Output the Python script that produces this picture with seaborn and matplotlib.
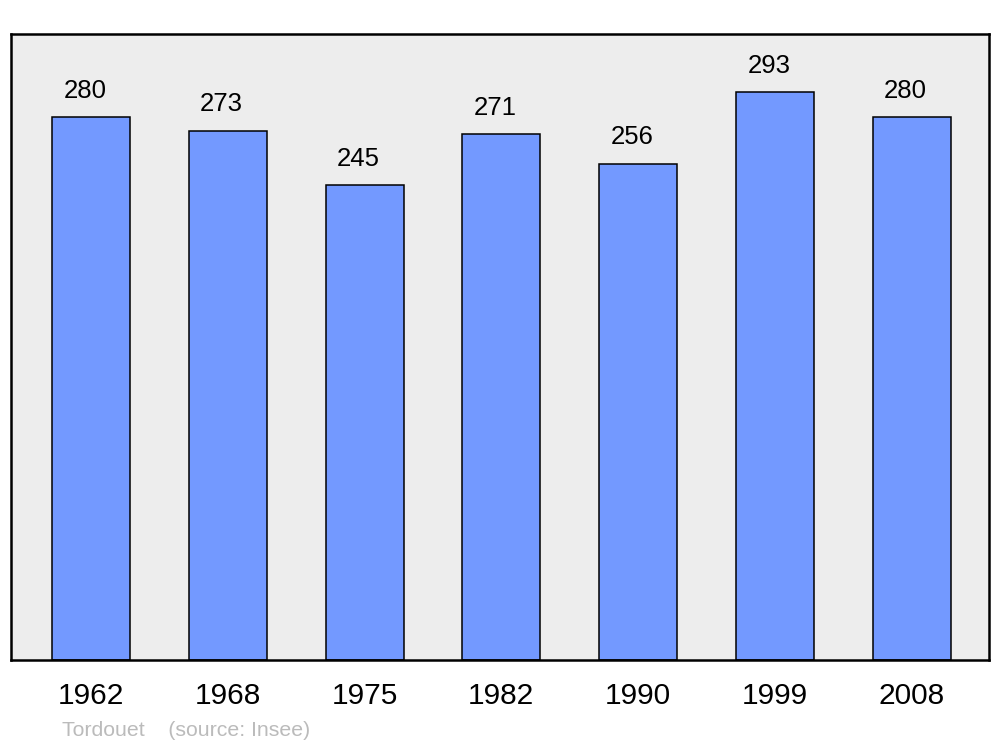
import matplotlib
matplotlib.use("Agg")
import matplotlib.pyplot as plt
import seaborn as sb
import pandas as pd

# Population data
years = ["1962", "1968", "1975", "1982", "1990", "1999", "2008"]
population = [280, 273, 245, 271, 256, 293, 280]
commune = "Tordouet"
source = "(source: Insee)"

df = pd.DataFrame({"year": years, "pop": population})

sb.set_style("white")
plt.rcParams["font.family"] = ["Liberation Sans", "DejaVu Sans"]
plt.rcParams["text.color"] = "black"
plt.rcParams["xtick.color"] = "black"

fig = plt.figure(figsize=(10, 7.47), dpi=100)
ax = fig.add_axes([0.011, 0.1165, 0.978, 0.838])
ax.set_facecolor("#EDEDED")

sb.barplot(data=df, x="year", y="pop", color="#7399FF", saturation=1,
           width=0.57, edgecolor="black", linewidth=1.1, ax=ax)

# value labels above the bars
for i, v in enumerate(population):
    ax.text(i - 0.045, v + 13.5, str(v), ha="center", va="center",
            fontsize=18.5, color="black")

ax.set_xlim(-0.585, 6.565)
ax.set_ylim(0, 322.8)
ax.set_xlabel("")
ax.set_ylabel("")
ax.set_yticks([])
ax.tick_params(axis="x", length=0, pad=15.5, labelsize=21.5, labelcolor="black")
for s in ax.spines.values():
    s.set_visible(True)
    s.set_linewidth(1.8)
    s.set_color("black")

fig.text(0.062, 1 - 731 / 747, commune + "    " + source, fontsize=15.3,
         color="#BBBBBB", va="center", ha="left")

fig.savefig("out.png", dpi=100)
